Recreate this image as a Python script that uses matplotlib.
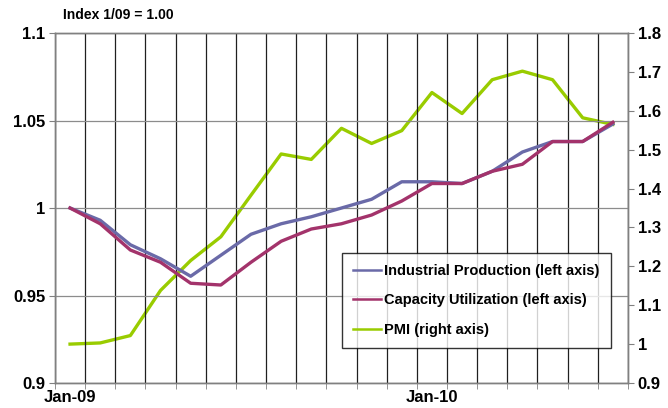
import numpy as np
import matplotlib
matplotlib.use('Agg')
import matplotlib.pyplot as plt

plt.rcParams['font.family'] = ['Liberation Sans', 'DejaVu Sans']
plt.rcParams['font.weight'] = 'bold'

months = ['Jan-09', 'Feb-09', 'Mar-09', 'Apr-09', 'May-09', 'Jun-09', 'Jul-09',
          'Aug-09', 'Sep-09', 'Oct-09', 'Nov-09', 'Dec-09', 'Jan-10', 'Feb-10',
          'Mar-10', 'Apr-10', 'May-10', 'Jun-10', 'Jul-10']
ind_prod = [1.000, 0.993, 0.979, 0.971, 0.961, 0.973, 0.985, 0.991, 0.995, 1.000,
            1.005, 1.015, 1.015, 1.014, 1.021, 1.032, 1.038, 1.038, 1.048]
cap_util = [1.000, 0.991, 0.976, 0.969, 0.957, 0.956, 0.969, 0.981, 0.988, 0.991,
            0.996, 1.004, 1.014, 1.014, 1.021, 1.025, 1.038, 1.038, 1.049]
pmi = [1.000, 1.003, 1.022, 1.138, 1.215, 1.276, 1.383, 1.489, 1.475, 1.555,
       1.516, 1.549, 1.647, 1.593, 1.680, 1.702, 1.680, 1.582, 1.565]

x = np.arange(len(months))

fig = plt.figure(figsize=(6.68, 4.08), dpi=100)
ax = fig.add_axes([0.0823, 0.0613, 0.8577, 0.8577])
ax2 = ax.twinx()

ax.plot(x, ind_prod, color='#6a6aa8', lw=2.4, label='Industrial Production (left axis)', zorder=3)
ax.plot(x, cap_util, color='#a3336b', lw=2.4, label='Capacity Utilization (left axis)', zorder=3)
ax2.plot(x, pmi, color='#99cc00', lw=2.4, label='PMI (right axis)')

ax.set_xlim(-0.5, len(months) - 0.5)
ax.set_ylim(0.9, 1.1)
ax.set_yticks([0.9, 0.95, 1.0, 1.05, 1.1])
ax.set_yticklabels(['0.9', '0.95', '1', '1.05', '1.1'])
ax2.set_ylim(0.9, 1.8)
ax2.set_yticks(np.arange(0.9, 1.81, 0.1))
ax2.set_yticklabels(['0.9', '1', '1.1', '1.2', '1.3', '1.4', '1.5', '1.6', '1.7', '1.8'])

# category labels only at January
jan = [i for i, m in enumerate(months) if m.startswith('Jan')]
ax.set_xticks(jan)
ax.set_xticklabels([months[i] for i in jan])
ax.set_xticks(np.arange(-0.5, len(months), 1.0), minor=True)
ax.tick_params(axis='x', which='major', length=0, pad=5, labelsize=12)
ax.tick_params(axis='x', which='minor', length=4, color='#808080')
ax.tick_params(axis='y', length=4, color='#808080', labelsize=12, pad=3)
ax2.tick_params(axis='y', length=4, color='#808080', labelsize=12, pad=3)

ax.grid(axis='x', which='minor', color='#202020', lw=0.9)
ax.grid(axis='y', which='major', color='#8c8c8c', lw=0.9)
ax.set_axisbelow(True)
for a in (ax, ax2):
    for s in a.spines.values():
        s.set_color('#808080')
        s.set_linewidth(1.0)

ax.set_zorder(ax2.get_zorder() + 1)
ax.patch.set_visible(False)

fig.text(0.094, 0.963, 'Index 1/09 = 1.00', fontsize=10, fontweight='bold', va='center')

h1, l1 = ax.get_legend_handles_labels()
h2, l2 = ax2.get_legend_handles_labels()
leg = ax.legend(h1 + h2, l1 + l2, loc='upper left', bbox_to_anchor=(0.501, 0.371),
                borderaxespad=0, frameon=True, fancybox=False, fontsize=10.5,
                handlelength=1.9, handletextpad=0.25, labelspacing=1.05, borderpad=0.75)
leg.get_frame().set_edgecolor('black')
leg.get_frame().set_linewidth(1.0)
for line in leg.get_lines():
    line.set_linewidth(1.8)

fig.savefig('out.png', dpi=100)
